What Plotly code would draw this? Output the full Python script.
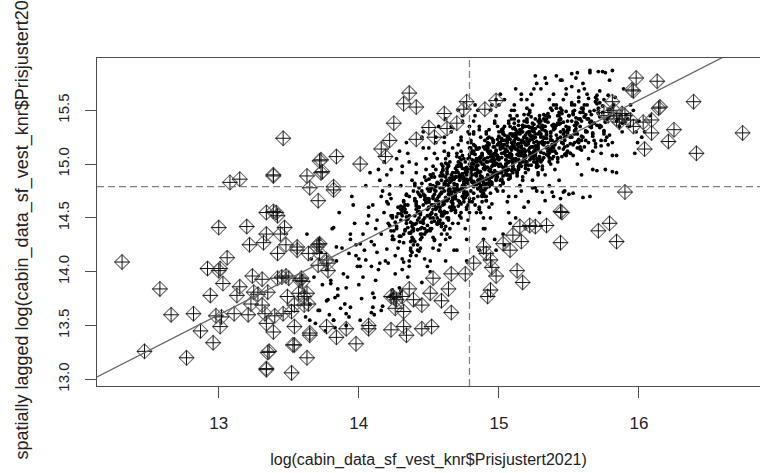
import plotly.graph_objects as go

# ---------------- data ----------------
x_label = "log(cabin_data_sf_vest_knr$Prisjustert2021)"
y_label = "spatially lagged log(cabin_data_sf_vest_knr$Prisjustert2021)"

x_ticks = [13, 14, 15, 16]
y_ticks = [13.0, 13.5, 14.0, 14.5, 15.0, 15.5]
y_ticktext = ["13.0", "13.5", "14.0", "14.5", "15.0", "15.5"]

x_mean = 14.79
y_mean = 14.79
slope = 0.665

# ordinary points, grouped by column of the cloud (outer / sparse part)
dx_136 = [13.62, 13.65, 13.68, 13.61, 13.66, 13.69]
dy_136 = [13.58, 13.70, 13.95, 13.82, 14.12, 13.52]
dx_137 = [13.71, 13.73, 13.74, 13.76, 13.77, 13.78, 13.72, 13.79]
dy_137 = [13.64, 14.18, 13.88, 13.45, 14.02, 13.74, 14.30, 13.60]
dx_138 = [13.80, 13.81, 13.82, 13.84, 13.85, 13.86, 13.87, 13.88, 13.89, 13.83]
dy_138 = [13.92, 14.40, 13.55, 14.10, 13.78, 14.55, 13.66, 14.22, 13.98, 13.48]
dx_139 = [13.94, 13.90, 13.96, 13.92, 13.98, 13.93, 13.97, 13.91, 13.99, 13.95, 13.91, 13.98]
dy_139 = [14.30, 13.70, 14.62, 13.95, 14.15, 13.58, 14.45, 13.85, 14.05, 14.70, 13.50, 14.25]
dx_140 = [14.03, 14.09, 14.05, 14.01, 14.07, 14.00, 14.04, 14.08, 14.02, 14.06, 14.00, 14.07, 14.03, 14.09, 14.01]
dy_140 = [14.35, 13.62, 14.80, 14.05, 14.52, 13.88, 14.20, 14.92, 13.75, 14.45, 14.12, 14.60, 13.95, 14.28, 13.55]
dx_141 = [14.12, 14.16, 14.10, 14.18, 14.14, 14.19, 14.11, 14.17, 14.13, 14.15, 14.14, 14.10, 14.16, 14.12, 14.18, 14.13, 14.17, 14.11]
dy_141 = [14.40, 14.70, 13.80, 14.55, 14.95, 14.10, 14.25, 13.68, 14.48, 14.85, 14.02, 14.62, 14.35, 13.92, 15.02, 14.18, 14.75, 13.60]
dx_142 = [14.21, 14.28, 14.24, 14.20, 14.26, 14.22, 14.29, 14.23, 14.27, 14.25,
          14.22, 14.26, 14.20, 14.28, 14.24, 14.29, 14.21, 14.27, 14.23, 14.25, 14.23, 14.29]
dy_142 = [14.45, 14.60, 14.30, 14.90, 14.15, 14.72, 13.85, 14.52, 15.05, 14.38,
          14.80, 13.98, 14.65, 14.22, 14.50, 15.12, 14.08, 14.42, 14.68, 13.75, 14.95, 14.33]
dx_143 = [14.34, 14.30, 14.36, 14.32, 14.38, 14.33, 14.37, 14.31, 14.39, 14.35,
          14.33, 14.39, 14.35, 14.31, 14.37, 14.30, 14.34, 14.38, 14.32, 14.36,
          14.31, 14.38, 14.34, 14.30, 14.36, 14.32]
dy_143 = [14.55, 14.48, 14.70, 14.35, 14.85, 14.62, 14.20, 14.92, 14.40, 15.10,
          14.58, 14.75, 13.95, 14.52, 14.28, 14.80, 15.20, 14.45, 14.66, 14.10,
          14.98, 14.38, 14.72, 13.82, 15.02, 14.60]
dx_144 = [14.43, 14.49, 14.45, 14.41, 14.47, 14.40, 14.44, 14.48, 14.42, 14.46,
          14.44, 14.40, 14.46, 14.42, 14.48, 14.43, 14.47, 14.41, 14.49, 14.45,
          14.40, 14.47, 14.43, 14.49, 14.41, 14.45, 14.48, 14.42, 14.46, 14.44]
dy_144 = [14.60, 14.52, 14.75, 14.45, 14.88, 14.68, 14.30, 14.95, 14.55, 15.15,
          14.40, 14.82, 14.62, 14.20, 15.05, 14.72, 14.50, 14.92, 14.05, 15.25,
          14.66, 14.35, 14.78, 14.58, 15.00, 13.90, 14.85, 14.48, 15.30, 14.70]
dx_145 = [14.50, 14.57, 14.53, 14.59, 14.51, 14.55, 14.58, 14.52, 14.56, 14.54,
          14.51, 14.58, 14.54, 14.50, 14.56, 14.52, 14.59, 14.53, 14.57, 14.55,
          14.52, 14.56, 14.50, 14.58, 14.54, 14.59, 14.51, 14.57, 14.53, 14.55,
          14.53, 14.59, 14.55, 14.51]
dy_145 = [14.65, 14.70, 14.58, 14.85, 14.50, 14.95, 14.78, 14.40, 15.05, 14.62,
          14.90, 14.72, 14.30, 15.15, 14.82, 14.55, 15.00, 14.68, 14.20, 15.25,
          14.88, 14.60, 14.75, 14.45, 15.10, 14.92, 14.10, 15.35, 14.80, 14.66,
          14.98, 14.52, 15.20, 14.00]
dx_146 = [14.61, 14.68, 14.64, 14.60, 14.66, 14.62, 14.69, 14.63, 14.67, 14.65,
          14.63, 14.69, 14.65, 14.61, 14.67, 14.60, 14.64, 14.68, 14.62, 14.66,
          14.60, 14.67, 14.63, 14.69, 14.61, 14.65, 14.68, 14.62, 14.66, 14.64,
          14.64, 14.60, 14.66, 14.62, 14.68, 14.63, 14.67, 14.61]
dy_146 = [14.75, 14.82, 14.68, 14.95, 14.60, 15.05, 14.88, 14.50, 15.15, 14.72,
          15.00, 14.80, 14.40, 15.25, 14.92, 14.65, 15.10, 14.78, 14.30, 15.35,
          14.98, 14.70, 14.85, 14.55, 15.20, 15.02, 14.20, 15.42, 14.90, 14.76,
          15.08, 14.62, 15.30, 14.10, 14.86, 14.96, 14.45, 15.12]
dx_147 = [14.72, 14.76, 14.70, 14.78, 14.74, 14.79, 14.71, 14.77, 14.73, 14.75,
          14.70, 14.77, 14.73, 14.79, 14.71, 14.75, 14.78, 14.72, 14.76, 14.74,
          14.74, 14.70, 14.76, 14.72, 14.78, 14.73, 14.77, 14.71, 14.79, 14.75,
          14.71, 14.78, 14.74, 14.70, 14.76, 14.72, 14.79, 14.73, 14.77, 14.75,
          14.73, 14.79]
dy_147 = [14.85, 14.92, 14.78, 15.05, 14.70, 15.15, 14.98, 14.60, 15.25, 14.82,
          15.10, 14.90, 14.50, 15.35, 15.02, 14.75, 15.20, 14.88, 14.40, 15.45,
          15.08, 14.80, 14.95, 14.65, 15.30, 15.12, 14.30, 15.50, 15.00, 14.86,
          15.18, 14.72, 15.40, 14.20, 14.96, 15.06, 14.55, 15.22, 14.10, 14.84,
          15.00, 15.28]
dx_148 = [14.83, 14.89, 14.85, 14.81, 14.87, 14.80, 14.84, 14.88, 14.82, 14.86,
          14.84, 14.80, 14.86, 14.82, 14.88, 14.83, 14.87, 14.81, 14.89, 14.85,
          14.81, 14.88, 14.84, 14.80, 14.86, 14.82, 14.89, 14.83, 14.87, 14.85,
          14.80, 14.87, 14.83, 14.89, 14.81, 14.85, 14.88, 14.82, 14.86, 14.84,
          14.82, 14.86, 14.80, 14.88, 14.84, 14.89]
dy_148 = [14.90, 15.00, 14.85, 15.10, 14.78, 15.20, 15.05, 14.70, 15.30, 14.92,
          15.15, 14.98, 14.60, 15.40, 15.08, 14.82, 15.25, 14.95, 14.50, 15.50,
          15.12, 14.88, 15.02, 14.75, 15.35, 15.18, 14.40, 15.55, 15.06, 14.94,
          15.22, 14.80, 15.45, 14.30, 15.04, 15.14, 14.65, 15.28, 14.20, 14.96,
          15.10, 15.32, 14.86, 15.00, 14.55, 15.16]
dx_149 = [14.94, 14.90, 14.96, 14.92, 14.98, 14.93, 14.97, 14.91, 14.99, 14.95,
          14.92, 14.96, 14.90, 14.98, 14.94, 14.99, 14.91, 14.97, 14.93, 14.95,
          14.93, 14.99, 14.95, 14.91, 14.97, 14.90, 14.94, 14.98, 14.92, 14.96,
          14.91, 14.98, 14.94, 14.90, 14.96, 14.92, 14.99, 14.93, 14.97, 14.95,
          14.90, 14.97, 14.93, 14.99, 14.91, 14.95, 14.98, 14.92, 14.96, 14.94]
dy_149 = [14.95, 15.05, 14.90, 15.15, 14.85, 15.25, 15.10, 14.78, 15.35, 14.98,
          15.20, 15.02, 14.70, 15.45, 15.12, 14.88, 15.30, 15.00, 14.60, 15.55,
          15.18, 14.92, 15.08, 14.82, 15.40, 15.22, 14.50, 15.60, 15.12, 15.00,
          15.28, 14.86, 15.50, 14.40, 15.06, 15.16, 14.75, 15.32, 14.30, 15.04,
          15.14, 15.38, 14.94, 15.08, 14.66, 15.24, 14.20, 15.02, 15.20, 14.88]
dx_150 = [15.01, 15.08, 15.04, 15.00, 15.06, 15.02, 15.09, 15.03, 15.07, 15.05,
          15.00, 15.07, 15.03, 15.09, 15.01, 15.05, 15.08, 15.02, 15.06, 15.04,
          15.04, 15.00, 15.06, 15.02, 15.08, 15.03, 15.07, 15.01, 15.09, 15.05,
          15.02, 15.06, 15.00, 15.08, 15.04, 15.09, 15.01, 15.07, 15.03, 15.05,
          15.03, 15.09, 15.05, 15.01, 15.07, 15.00, 15.04, 15.08, 15.02, 15.06]
dy_150 = [15.00, 15.10, 14.95, 15.20, 14.90, 15.30, 15.15, 14.82, 15.40, 15.04,
          15.25, 15.08, 14.75, 15.50, 15.18, 14.92, 15.35, 15.06, 14.65, 15.60,
          15.22, 14.98, 15.12, 14.86, 15.45, 15.28, 14.55, 15.65, 15.16, 15.04,
          15.32, 14.90, 15.55, 14.45, 15.10, 15.20, 14.80, 15.38, 14.35, 15.08,
          15.18, 15.42, 15.00, 15.14, 14.70, 15.26, 14.25, 15.06, 15.24, 14.94]
dx_151 = [15.12, 15.16, 15.10, 15.18, 15.14, 15.19, 15.11, 15.17, 15.13, 15.15,
          15.13, 15.19, 15.15, 15.11, 15.17, 15.10, 15.14, 15.18, 15.12, 15.16,
          15.10, 15.17, 15.13, 15.19, 15.11, 15.15, 15.18, 15.12, 15.16, 15.14,
          15.14, 15.10, 15.16, 15.12, 15.18, 15.13, 15.17, 15.11, 15.19, 15.15,
          15.11, 15.18, 15.14, 15.10, 15.16, 15.12, 15.19, 15.13]
dy_151 = [15.05, 15.15, 15.00, 15.25, 14.95, 15.35, 15.20, 14.88, 15.45, 15.08,
          15.30, 15.12, 14.80, 15.55, 15.22, 14.98, 15.40, 15.10, 14.70, 15.65,
          15.26, 15.02, 15.18, 14.92, 15.50, 15.32, 14.60, 15.70, 15.20, 15.08,
          15.36, 14.96, 15.60, 14.50, 15.14, 15.24, 14.85, 15.42, 14.40, 15.12,
          15.22, 15.46, 15.04, 15.18, 14.75, 15.28, 15.06, 15.28]
dx_152 = [15.23, 15.29, 15.25, 15.21, 15.27, 15.20, 15.24, 15.28, 15.22, 15.26,
          15.21, 15.28, 15.24, 15.20, 15.26, 15.22, 15.29, 15.23, 15.27, 15.25,
          15.22, 15.26, 15.20, 15.28, 15.24, 15.29, 15.21, 15.27, 15.23, 15.25,
          15.20, 15.27, 15.23, 15.29, 15.21, 15.25, 15.28, 15.22, 15.26, 15.24,
          15.24, 15.20, 15.26, 15.22]
dy_152 = [15.10, 15.20, 15.05, 15.30, 15.00, 15.40, 15.25, 14.92, 15.50, 15.14,
          15.35, 15.18, 14.85, 15.60, 15.28, 15.04, 15.45, 15.16, 14.75, 15.70,
          15.30, 15.08, 15.22, 14.98, 15.55, 15.38, 14.65, 15.75, 15.24, 15.12,
          15.42, 15.02, 15.65, 14.55, 15.20, 15.30, 14.90, 15.48, 14.78, 15.16,
          15.26, 15.52, 15.10, 15.34]
dx_153 = [15.34, 15.30, 15.36, 15.32, 15.38, 15.33, 15.37, 15.31, 15.39, 15.35,
          15.30, 15.37, 15.33, 15.39, 15.31, 15.35, 15.38, 15.32, 15.36, 15.34,
          15.31, 15.38, 15.34, 15.30, 15.36, 15.32, 15.39, 15.33, 15.37, 15.35,
          15.32, 15.36, 15.30, 15.38, 15.34, 15.39, 15.31, 15.37]
dy_153 = [15.15, 15.25, 15.10, 15.35, 15.05, 15.45, 15.30, 14.98, 15.55, 15.20,
          15.40, 15.22, 14.90, 15.65, 15.32, 15.08, 15.50, 15.18, 14.80, 15.75,
          15.36, 15.12, 15.28, 15.02, 15.60, 15.42, 14.70, 15.80, 15.26, 15.16,
          15.46, 15.06, 15.70, 14.74, 15.24, 15.34, 14.95, 15.52]
dx_154 = [15.40, 15.47, 15.43, 15.49, 15.41, 15.45, 15.48, 15.42, 15.46, 15.44,
          15.42, 15.46, 15.40, 15.48, 15.44, 15.49, 15.41, 15.47, 15.43, 15.45,
          15.44, 15.40, 15.46, 15.42, 15.48, 15.43, 15.47, 15.41, 15.49, 15.45,
          15.41, 15.48, 15.44, 15.40]
dy_154 = [15.20, 15.30, 15.15, 15.40, 15.10, 15.50, 15.35, 15.02, 15.60, 15.25,
          15.45, 15.28, 14.95, 15.70, 15.38, 15.12, 15.55, 15.22, 14.85, 15.78,
          15.42, 15.18, 15.32, 15.06, 15.65, 15.48, 14.75, 15.82, 15.30, 15.20,
          15.52, 15.10, 14.68, 15.36]
dx_155 = [15.51, 15.58, 15.54, 15.50, 15.56, 15.52, 15.59, 15.53, 15.57, 15.55,
          15.54, 15.50, 15.56, 15.52, 15.58, 15.53, 15.57, 15.51, 15.59, 15.55,
          15.53, 15.59, 15.55, 15.51, 15.57, 15.50, 15.54, 15.58, 15.52, 15.56]
dy_155 = [15.25, 15.35, 15.20, 15.45, 15.15, 15.55, 15.40, 15.08, 15.62, 15.30,
          15.50, 15.32, 15.00, 15.72, 15.42, 15.18, 15.58, 15.26, 14.90, 15.80,
          15.46, 15.22, 15.36, 15.10, 15.68, 14.72, 15.28, 15.48, 15.84, 15.38]
dx_156 = [15.62, 15.66, 15.60, 15.68, 15.64, 15.69, 15.61, 15.67, 15.63, 15.65,
          15.61, 15.68, 15.64, 15.60, 15.66, 15.62, 15.69, 15.63, 15.67, 15.65,
          15.60, 15.67, 15.63, 15.69, 15.61, 15.65]
dy_156 = [15.30, 15.40, 15.25, 15.50, 15.20, 15.58, 15.44, 15.12, 15.65, 15.35,
          15.55, 15.38, 15.05, 15.75, 15.46, 15.22, 15.62, 15.30, 14.95, 15.85,
          15.48, 15.28, 15.42, 15.16, 15.70, 14.70]
dx_157 = [15.73, 15.79, 15.75, 15.71, 15.77, 15.70, 15.74, 15.78, 15.72, 15.76,
          15.70, 15.77, 15.73, 15.79, 15.71, 15.75, 15.78, 15.72, 15.76, 15.74,
          15.72, 15.76]
dy_157 = [15.35, 15.45, 15.30, 15.52, 15.25, 15.60, 15.48, 15.18, 15.68, 15.40,
          15.56, 15.42, 15.10, 15.78, 15.50, 15.28, 15.64, 15.36, 14.95, 15.86,
          15.44, 15.22]
dx_158 = [15.84, 15.80, 15.86, 15.82, 15.88, 15.83, 15.87, 15.81, 15.89, 15.85, 15.81, 15.88, 15.84, 15.80]
dy_158 = [15.40, 15.48, 15.35, 15.55, 15.30, 15.62, 15.45, 15.20, 15.70, 15.42, 15.08, 15.38, 14.92, 15.52]
dx_159 = [15.92, 15.96, 15.90, 15.98, 15.94, 15.99, 15.91, 15.97, 15.93]
dy_159 = [15.42, 15.50, 15.38, 15.30, 15.55, 15.20, 15.46, 15.10, 15.35]
dx_160 = [16.00, 16.04, 16.08, 16.02]
dy_160 = [15.40, 15.30, 15.45, 15.25]

# dense core of the cloud
cx_142 = [14.29, 14.21, 14.24, 14.27, 14.20, 14.26, 14.23, 14.28, 14.25, 14.22, 14.27, 14.24]
cy_142 = [14.28, 14.63, 14.33, 14.51, 14.21, 14.46, 14.38, 14.54, 14.30, 14.43, 14.40, 14.52]
cx_143 = [14.36, 14.33, 14.30, 14.39, 14.32, 14.38, 14.35, 14.31, 14.37, 14.34,
          14.35, 14.32, 14.38, 14.30, 14.37, 14.33, 14.39, 14.34]
cy_143 = [14.52, 14.39, 14.61, 14.44, 14.65, 14.32, 14.49, 14.56, 14.36, 14.71,
          14.41, 14.59, 14.29, 14.54, 14.46, 14.62, 14.38, 14.51]
cx_144 = [14.45, 14.42, 14.48, 14.40, 14.47, 14.43, 14.49, 14.44, 14.41, 14.46,
          14.47, 14.44, 14.42, 14.45, 14.49, 14.41, 14.46, 14.40, 14.43, 14.48,
          14.49, 14.41, 14.44, 14.47]
cy_144 = [14.82, 14.39, 14.64, 14.44, 14.67, 14.56, 14.77, 14.35, 14.61, 14.48,
          14.70, 14.53, 14.74, 14.41, 14.58, 14.65, 14.45, 14.80, 14.50, 14.68,
          14.38, 14.63, 14.55, 14.71]
cx_145 = [14.57, 14.54, 14.52, 14.55, 14.59, 14.51, 14.56, 14.50, 14.53, 14.58,
          14.59, 14.51, 14.54, 14.57, 14.50, 14.56, 14.53, 14.58, 14.55, 14.52,
          14.56, 14.53, 14.50, 14.59, 14.52, 14.58, 14.55, 14.51, 14.57, 14.54]
cy_145 = [14.63, 14.88, 14.46, 14.75, 14.55, 14.81, 14.68, 14.60, 14.91, 14.48,
          14.73, 14.53, 14.76, 14.65, 14.86, 14.44, 14.70, 14.57, 14.79, 14.62,
          14.83, 14.50, 14.67, 14.74, 14.54, 14.89, 14.59, 14.77, 14.47, 14.72]
cx_146 = [14.65, 14.62, 14.68, 14.60, 14.67, 14.63, 14.69, 14.64, 14.61, 14.66,
          14.66, 14.63, 14.60, 14.69, 14.62, 14.68, 14.65, 14.61, 14.67, 14.64,
          14.69, 14.61, 14.64, 14.67, 14.60, 14.66, 14.63, 14.68, 14.65, 14.62,
          14.67, 14.64, 14.62, 14.65, 14.69, 14.61, 14.66, 14.60, 14.63, 14.68]
cy_146 = [14.76, 14.88, 14.68, 14.94, 14.61, 14.81, 14.73, 14.98, 14.56, 14.85,
          14.65, 14.91, 14.78, 14.70, 15.01, 14.58, 14.83, 14.63, 14.86, 14.75,
          14.96, 14.54, 14.80, 14.67, 14.89, 14.72, 14.93, 14.60, 14.77, 14.84,
          14.64, 14.99, 14.69, 14.87, 14.57, 14.82, 14.74, 14.90, 14.66, 14.79]
cx_147 = [14.76, 14.73, 14.70, 14.79, 14.72, 14.78, 14.75, 14.71, 14.77, 14.74,
          14.79, 14.71, 14.74, 14.77, 14.70, 14.76, 14.73, 14.78, 14.75, 14.72,
          14.77, 14.74, 14.72, 14.75, 14.79, 14.71, 14.76, 14.70, 14.73, 14.78,
          14.75, 14.72, 14.78, 14.70, 14.77, 14.73, 14.79, 14.74, 14.71, 14.76]
cy_147 = [14.69, 14.89, 14.81, 15.06, 14.64, 14.93, 14.73, 14.99, 14.86, 14.78,
          15.09, 14.66, 14.91, 14.71, 14.94, 14.83, 15.04, 14.62, 14.88, 14.75,
          14.97, 14.80, 15.01, 14.68, 14.85, 14.92, 14.72, 15.07, 14.77, 14.95,
          14.65, 14.90, 14.82, 14.98, 14.74, 14.87, 14.84, 14.96, 14.76, 15.02]
cx_148 = [14.89, 14.81, 14.84, 14.87, 14.80, 14.86, 14.83, 14.88, 14.85, 14.82,
          14.87, 14.84, 14.82, 14.85, 14.89, 14.81, 14.86, 14.80, 14.83, 14.88,
          14.85, 14.82, 14.88, 14.80, 14.87, 14.83, 14.89, 14.84, 14.81, 14.86,
          14.86, 14.83, 14.80, 14.89, 14.82, 14.88, 14.85, 14.81, 14.87, 14.84]
cy_148 = [14.72, 15.01, 14.81, 15.07, 14.94, 14.86, 15.17, 14.74, 14.99, 14.79,
          15.02, 14.91, 15.12, 14.70, 14.96, 14.83, 15.05, 14.88, 15.09, 14.76,
          14.93, 15.00, 14.80, 15.15, 14.85, 15.03, 14.73, 14.98, 14.90, 15.06,
          14.82, 14.95, 14.92, 15.04, 14.84, 15.10, 14.77, 14.97, 14.89, 15.14]
cx_149 = [14.97, 14.94, 14.92, 14.95, 14.99, 14.91, 14.96, 14.90, 14.93, 14.98,
          14.95, 14.92, 14.98, 14.90, 14.97, 14.93, 14.99, 14.94, 14.91, 14.96,
          14.96, 14.93, 14.90, 14.99, 14.92, 14.98, 14.95, 14.91, 14.97, 14.94,
          14.99, 14.91, 14.94, 14.97, 14.90, 14.96, 14.93, 14.98, 14.95, 14.92]
cy_149 = [15.01, 14.93, 15.24, 14.81, 15.06, 14.86, 15.09, 14.98, 15.19, 14.77,
          15.03, 14.90, 15.12, 14.95, 15.16, 14.83, 15.00, 15.07, 14.87, 15.22,
          14.92, 15.10, 14.80, 15.05, 14.97, 15.13, 14.89, 15.02, 14.99, 15.11,
          14.91, 15.17, 14.84, 15.04, 14.96, 15.21, 14.79, 15.08, 14.88, 15.14]
cx_150 = [15.05, 15.02, 15.08, 15.00, 15.07, 15.03, 15.09, 15.04, 15.01, 15.06,
          15.06, 15.03, 15.00, 15.09, 15.02, 15.08, 15.05, 15.01, 15.07, 15.04,
          15.09, 15.01, 15.04, 15.07, 15.00, 15.06, 15.03, 15.08, 15.05, 15.02,
          15.07, 15.04, 15.02, 15.05, 15.09, 15.01, 15.06, 15.00, 15.03, 15.08]
cy_150 = [15.12, 14.92, 15.15, 15.04, 15.25, 14.83, 15.09, 14.96, 15.18, 15.01,
          15.22, 14.89, 15.06, 15.13, 14.93, 15.28, 14.98, 15.16, 14.86, 15.11,
          15.03, 15.19, 14.95, 15.08, 15.05, 15.17, 14.97, 15.23, 14.90, 15.10,
          15.02, 15.27, 14.85, 15.14, 14.94, 15.20, 15.07, 14.99, 15.30, 14.87]
cx_151 = [15.16, 15.13, 15.10, 15.19, 15.12, 15.18, 15.15, 15.11, 15.17, 15.14,
          15.19, 15.11, 15.14, 15.17, 15.10, 15.16, 15.13, 15.18, 15.15, 15.12,
          15.17, 15.14, 15.12, 15.15, 15.19, 15.11, 15.16, 15.10, 15.13, 15.18,
          15.15, 15.12, 15.18, 15.10, 15.17, 15.13, 15.19, 15.14, 15.11, 15.16]
cy_151 = [15.31, 14.89, 15.15, 15.02, 15.24, 15.07, 15.28, 14.95, 15.12, 15.19,
          14.99, 15.34, 15.04, 15.22, 14.92, 15.17, 15.09, 15.25, 15.01, 15.14,
          15.11, 15.23, 15.03, 15.29, 14.96, 15.16, 15.08, 15.33, 14.91, 15.20,
          15.00, 15.26, 15.13, 15.05, 15.36, 14.93, 15.18, 14.98, 15.21, 15.10]
cx_152 = [15.29, 15.21, 15.24, 15.27, 15.20, 15.26, 15.23, 15.28, 15.25, 15.22,
          15.27, 15.24, 15.22, 15.25, 15.29, 15.21, 15.26, 15.20, 15.23, 15.28,
          15.25, 15.22, 15.28, 15.20, 15.27, 15.23, 15.29, 15.24, 15.21, 15.26,
          15.26, 15.23, 15.20, 15.29, 15.22, 15.28, 15.25, 15.21, 15.27, 15.24]
cy_152 = [15.30, 15.13, 15.34, 15.01, 15.18, 15.25, 15.05, 15.40, 15.10, 15.28,
          14.98, 15.23, 15.15, 15.31, 15.07, 15.20, 15.17, 15.29, 15.09, 15.35,
          15.02, 15.22, 15.14, 15.39, 14.97, 15.26, 15.06, 15.32, 15.19, 15.11,
          15.42, 14.99, 15.24, 15.04, 15.27, 15.16, 15.37, 14.95, 15.21, 15.08]
cx_153 = [15.37, 15.34, 15.32, 15.35, 15.39, 15.31, 15.36, 15.30, 15.33, 15.38,
          15.35, 15.32, 15.38, 15.30, 15.37, 15.33, 15.39, 15.34, 15.31, 15.36,
          15.36, 15.33, 15.30, 15.39, 15.32, 15.38, 15.35, 15.31, 15.37, 15.34,
          15.39, 15.31, 15.34, 15.37, 15.30, 15.36, 15.33, 15.38, 15.35, 15.32]
cy_153 = [15.23, 15.30, 15.10, 15.45, 15.15, 15.33, 15.03, 15.28, 15.20, 15.36,
          15.12, 15.25, 15.22, 15.34, 15.14, 15.40, 15.07, 15.27, 15.19, 15.44,
          15.02, 15.31, 15.11, 15.37, 15.24, 15.16, 15.47, 15.04, 15.29, 15.09,
          15.32, 15.21, 15.42, 15.00, 15.26, 15.13, 15.35, 15.18, 15.39, 15.06]
cx_154 = [15.45, 15.42, 15.48, 15.40, 15.47, 15.43, 15.49, 15.44, 15.41, 15.46,
          15.46, 15.43, 15.40, 15.49, 15.42, 15.48, 15.45, 15.41, 15.47, 15.44,
          15.49, 15.41, 15.44, 15.47, 15.40, 15.46, 15.43, 15.48, 15.45, 15.42]
cy_154 = [15.20, 15.38, 15.08, 15.33, 15.25, 15.41, 15.17, 15.30, 15.27, 15.39,
          15.19, 15.45, 15.12, 15.32, 15.24, 15.49, 15.07, 15.36, 15.16, 15.42,
          15.29, 15.21, 15.52, 15.09, 15.34, 15.14, 15.37, 15.26, 15.47, 15.05]
cx_155 = [15.56, 15.53, 15.50, 15.59, 15.52, 15.58, 15.55, 15.51, 15.57, 15.54,
          15.59, 15.51, 15.54, 15.57, 15.50, 15.56, 15.53, 15.58, 15.55, 15.52,
          15.57, 15.54, 15.52, 15.55, 15.59]
cy_155 = [15.21, 15.47, 15.34, 15.26, 15.57, 15.14, 15.39, 15.19, 15.42, 15.31,
          15.52, 15.10, 15.36, 15.23, 15.45, 15.28, 15.49, 15.16, 15.33, 15.40,
          15.20, 15.55, 15.25, 15.43, 15.13]
cx_156 = [15.69, 15.61, 15.64, 15.67, 15.60, 15.66, 15.63, 15.68, 15.65, 15.62,
          15.67, 15.64, 15.62, 15.65, 15.69, 15.61, 15.66, 15.60]
cy_156 = [15.58, 15.16, 15.42, 15.29, 15.51, 15.34, 15.55, 15.22, 15.39, 15.46,
          15.26, 15.61, 15.31, 15.49, 15.19, 15.44, 15.36, 15.52]
cx_157 = [15.77, 15.74, 15.72, 15.75, 15.79, 15.71, 15.76, 15.70, 15.73, 15.78, 15.75, 15.72, 15.78, 15.70]
cy_157 = [15.42, 15.54, 15.34, 15.60, 15.27, 15.47, 15.39, 15.64, 15.22, 15.51, 15.31, 15.57, 15.44, 15.36]

# extra points in the lower / middle part of the band
bx_143 = [14.39, 14.31, 14.34, 14.37, 14.30, 14.36, 14.33, 14.38, 14.35, 14.32,
          14.35, 14.32, 14.38, 14.30, 14.37, 14.33, 14.39, 14.34, 14.31, 14.36]
by_143 = [14.30, 14.12, 14.45, 14.22, 14.58, 14.05, 14.38, 14.18, 14.50, 14.27,
          14.62, 14.09, 14.42, 14.33, 14.15, 14.55, 14.25, 14.48, 14.02, 14.36]
bx_144 = [14.47, 14.44, 14.42, 14.45, 14.49, 14.41, 14.46, 14.40, 14.43, 14.48,
          14.46, 14.43, 14.40, 14.49, 14.42, 14.48, 14.45, 14.41, 14.47, 14.44]
by_144 = [14.40, 14.22, 14.55, 14.32, 14.68, 14.15, 14.48, 14.28, 14.60, 14.37,
          14.72, 14.19, 14.52, 14.43, 14.25, 14.65, 14.35, 14.58, 14.12, 14.46]
bx_145 = [14.56, 14.53, 14.50, 14.59, 14.52, 14.58, 14.55, 14.51, 14.57, 14.54,
          14.57, 14.54, 14.52, 14.55, 14.59, 14.51, 14.56, 14.50, 14.53, 14.58,
          14.51, 14.58]
by_145 = [14.50, 14.32, 14.65, 14.42, 14.78, 14.25, 14.58, 14.38, 14.70, 14.47,
          14.82, 14.29, 14.62, 14.53, 14.35, 14.75, 14.45, 14.68, 14.22, 14.56,
          14.40, 14.60]
bx_146 = [14.65, 14.62, 14.68, 14.60, 14.67, 14.63, 14.69, 14.64, 14.61, 14.66,
          14.69, 14.61, 14.64, 14.67, 14.60, 14.66, 14.63, 14.68, 14.65, 14.62,
          14.64, 14.67]
by_146 = [14.60, 14.42, 14.75, 14.52, 14.88, 14.35, 14.68, 14.48, 14.80, 14.57,
          14.92, 14.39, 14.72, 14.63, 14.45, 14.85, 14.55, 14.78, 14.32, 14.66,
          14.50, 14.70]
bx_147 = [14.76, 14.73, 14.70, 14.79, 14.72, 14.78, 14.75, 14.71, 14.77, 14.74,
          14.75, 14.72, 14.78, 14.70, 14.77, 14.73, 14.79, 14.74, 14.71, 14.76,
          14.73, 14.76]
by_147 = [14.73, 14.55, 14.88, 14.65, 15.00, 14.48, 14.81, 14.61, 14.93, 14.70,
          15.05, 14.52, 14.85, 14.76, 14.58, 14.98, 14.68, 14.91, 14.45, 14.79,
          14.63, 14.83]
bx_148 = [14.89, 14.81, 14.84, 14.87, 14.80, 14.86, 14.83, 14.88, 14.85, 14.82,
          14.86, 14.83, 14.80, 14.89, 14.82, 14.88, 14.85, 14.81, 14.87, 14.84,
          14.82, 14.87]
by_148 = [14.83, 14.65, 14.98, 14.75, 15.10, 14.58, 14.91, 14.71, 15.03, 14.80,
          15.15, 14.62, 14.95, 14.86, 14.68, 15.08, 14.78, 15.01, 14.55, 14.89,
          14.73, 14.93]
bx_149 = [14.97, 14.94, 14.92, 14.95, 14.99, 14.91, 14.96, 14.90, 14.93, 14.98,
          14.99, 14.91, 14.94, 14.97, 14.90, 14.96, 14.93, 14.98, 14.95, 14.92,
          14.93, 14.98]
by_149 = [14.91, 14.73, 15.06, 14.83, 15.18, 14.66, 14.99, 14.79, 15.11, 14.88,
          15.23, 14.70, 15.03, 14.94, 14.76, 15.16, 14.86, 15.09, 14.63, 14.97,
          14.81, 15.01]
bx_150 = [15.05, 15.02, 15.08, 15.00, 15.07, 15.03, 15.09, 15.04, 15.01, 15.06,
          15.07, 15.04, 15.02, 15.05, 15.09, 15.01, 15.06, 15.00, 15.03, 15.08,
          15.03, 15.06]
by_150 = [15.00, 15.22, 14.88, 15.30, 14.95, 15.15, 15.08, 15.35, 14.92, 15.26,
          15.02, 15.18, 14.98, 15.12, 15.28, 14.85, 15.20, 15.05, 15.33, 14.90,
          15.10, 15.24]
bx_151 = [15.19, 15.11, 15.14, 15.17, 15.10, 15.16, 15.13, 15.18, 15.15, 15.12,
          15.15, 15.12, 15.18, 15.10, 15.17, 15.13, 15.19, 15.14, 15.11, 15.16,
          15.14, 15.17]
by_151 = [15.08, 15.28, 14.96, 15.36, 15.02, 15.22, 15.14, 15.40, 14.99, 15.32,
          15.10, 15.25, 15.05, 15.18, 15.34, 14.93, 15.27, 15.12, 15.38, 14.98,
          15.16, 15.30]
bx_152 = [15.26, 15.23, 15.20, 15.29, 15.22, 15.28, 15.25, 15.21, 15.27, 15.24,
          15.27, 15.24, 15.22, 15.25, 15.29, 15.21, 15.26, 15.20, 15.23, 15.28]
by_152 = [15.14, 15.34, 15.02, 15.42, 15.08, 15.28, 15.20, 15.46, 15.05, 15.38,
          15.16, 15.31, 15.11, 15.24, 15.40, 14.99, 15.33, 15.18, 15.44, 15.04]

# scattered dots outside the main band
dx_out = [13.63, 13.82, 13.94, 14.01, 13.84, 13.93, 14.05, 14.09, 14.15, 13.80, 13.85,
          13.83, 13.77, 13.72, 13.94, 13.91, 14.11, 14.16, 14.10, 13.82, 13.65,
          14.23, 14.25, 14.27, 14.24, 14.29,
          15.65, 15.71, 15.76, 15.81, 15.56, 15.44, 15.26,
          15.70, 15.81, 15.84, 15.73, 15.46, 15.53, 15.60, 15.31, 15.33, 15.24]
dy_out = [14.35, 14.41, 14.35, 14.26, 14.23, 14.17, 14.11, 14.05, 14.08, 13.89, 13.84,
          13.76, 13.73, 13.64, 13.67, 13.61, 13.76, 13.64, 13.67, 13.55, 13.55,
          13.78, 13.80, 13.76, 13.83, 13.79,
          15.87, 15.86, 15.85, 15.87, 15.85, 15.78, 15.82,
          14.94, 14.93, 15.08, 15.17, 14.74, 14.73, 14.69, 14.74, 14.66, 14.78]

# influential observations (diamond markers), (x, y)
infl_pts = [
    (12.31, 14.09), (12.47, 13.26), (12.58, 13.84), (12.66, 13.60), (12.77, 13.20),
    (12.82, 13.61), (12.87, 13.45), (12.92, 14.03), (12.94, 13.78), (12.96, 13.34),
    (12.98, 13.59), (13.00, 14.41), (13.00, 14.01), (13.01, 14.03), (13.01, 13.49),
    (13.02, 13.58), (13.03, 13.89), (13.06, 14.13), (13.08, 14.83), (13.11, 13.61),
    (13.13, 13.78), (13.15, 14.86), (13.15, 13.86), (13.20, 14.42), (13.21, 13.60),
    (13.22, 14.25), (13.23, 13.70), (13.24, 13.96), (13.25, 13.81), (13.28, 13.79),
    (13.31, 13.93), (13.31, 13.69), (13.32, 14.27), (13.33, 13.61), (13.34, 13.09),
    (13.34, 13.10), (13.34, 14.35), (13.34, 14.55), (13.34, 13.52), (13.35, 13.81),
    (13.35, 13.25), (13.36, 13.26), (13.39, 13.44), (13.39, 14.90), (13.39, 14.89),
    (13.39, 14.56), (13.40, 13.59), (13.41, 14.55), (13.42, 14.52), (13.42, 14.17),
    (13.42, 13.94), (13.44, 14.35), (13.45, 13.95), (13.46, 15.24), (13.46, 13.61),
    (13.47, 14.41), (13.48, 14.25), (13.48, 13.96), (13.49, 13.77), (13.50, 13.94),
    (13.52, 13.63), (13.52, 13.06), (13.53, 13.32), (13.54, 13.49), (13.54, 13.32),
    (13.54, 13.69), (13.56, 14.23), (13.56, 14.20), (13.57, 13.80), (13.58, 13.92),
    (13.59, 13.94), (13.60, 13.91), (13.61, 13.69), (13.61, 13.77), (13.63, 13.80),
    (13.63, 13.20), (13.63, 14.89), (13.64, 14.17), (13.64, 13.70), (13.65, 14.78),
    (13.65, 13.43), (13.65, 13.41), (13.70, 14.23), (13.71, 14.25), (13.71, 14.66),
    (13.71, 14.06), (13.72, 15.03), (13.72, 14.26), (13.72, 14.17), (13.73, 15.04),
    (13.73, 14.92), (13.74, 14.93), (13.77, 14.11), (13.77, 13.49), (13.78, 14.08),
    (13.78, 14.01), (13.82, 14.79), (13.82, 14.76), (13.84, 15.07), (13.84, 13.39),
    (13.91, 13.47), (13.98, 13.33), (14.01, 15.00), (14.07, 13.50), (14.07, 13.47),
    (14.16, 15.14), (14.19, 15.07), (14.22, 15.22), (14.23, 13.46), (14.23, 13.77),
    (14.25, 13.76), (14.26, 13.66), (14.27, 13.74), (14.31, 13.77), (14.32, 13.49),
    (14.32, 13.63), (14.32, 15.56), (14.34, 13.41), (14.36, 15.66), (14.36, 13.84),
    (14.39, 13.74), (14.41, 15.53), (14.41, 15.23), (14.45, 13.47), (14.45, 13.69),
    (14.25, 15.38), (14.50, 15.34), (14.51, 13.80), (14.52, 13.49), (14.53, 13.94),
    (14.54, 15.25), (14.59, 13.73), (14.61, 15.47), (14.63, 15.33), (14.64, 13.84),
    (14.66, 13.62), (14.66, 13.98), (14.70, 15.38), (14.75, 15.51), (14.76, 13.98),
    (14.77, 15.58), (14.82, 14.08), (14.89, 14.23), (14.90, 15.51), (14.91, 14.17),
    (14.94, 14.11), (14.95, 14.04), (14.98, 15.59), (14.98, 13.96), (14.94, 13.83),
    (14.92, 13.77), (15.03, 14.26), (15.08, 14.20), (15.10, 14.34), (15.13, 14.01),
    (15.15, 14.42), (15.16, 14.28), (15.17, 13.90), (15.22, 14.43), (15.26, 14.42),
    (15.34, 14.43), (15.44, 14.56), (15.45, 14.55), (15.44, 14.27), (15.71, 14.38),
    (15.79, 14.45), (15.84, 14.28), (15.90, 14.74), (15.98, 15.80), (16.13, 15.77),
    (15.95, 15.69), (15.96, 15.68), (15.81, 15.58), (15.78, 15.45), (15.84, 15.42),
    (15.88, 15.47), (15.94, 15.41), (15.96, 15.35), (16.03, 15.39), (16.09, 15.41),
    (15.82, 15.50), (15.90, 15.45), (15.75, 15.48), (15.86, 15.39), (16.09, 15.29),
    (16.04, 15.14), (16.14, 15.52), (16.15, 15.53), (16.25, 15.32), (16.21, 15.21),
    (16.39, 15.58), (16.41, 15.10), (16.74, 15.29),
]

# ---------------- assemble ----------------
dot_x = (dx_136 + dx_137 + dx_138 + dx_139 + dx_140 + dx_141 + dx_142 + dx_143 + dx_144
         + dx_145 + dx_146 + dx_147 + dx_148 + dx_149 + dx_150 + dx_151 + dx_152 + dx_153
         + dx_154 + dx_155 + dx_156 + dx_157 + dx_158 + dx_159 + dx_160
         + cx_142 + cx_143 + cx_144 + cx_145 + cx_146 + cx_147 + cx_148 + cx_149 + cx_150
         + cx_151 + cx_152 + cx_153 + cx_154 + cx_155 + cx_156 + cx_157
         + bx_143 + bx_144 + bx_145 + bx_146 + bx_147 + bx_148 + bx_149 + bx_150
         + bx_151 + bx_152 + dx_out)
dot_y = (dy_136 + dy_137 + dy_138 + dy_139 + dy_140 + dy_141 + dy_142 + dy_143 + dy_144
         + dy_145 + dy_146 + dy_147 + dy_148 + dy_149 + dy_150 + dy_151 + dy_152 + dy_153
         + dy_154 + dy_155 + dy_156 + dy_157 + dy_158 + dy_159 + dy_160
         + cy_142 + cy_143 + cy_144 + cy_145 + cy_146 + cy_147 + cy_148 + cy_149 + cy_150
         + cy_151 + cy_152 + cy_153 + cy_154 + cy_155 + cy_156 + cy_157
         + by_143 + by_144 + by_145 + by_146 + by_147 + by_148 + by_149 + by_150
         + by_151 + by_152 + dy_out)
assert len(dot_x) == len(dot_y)
infl_x = [p[0] for p in infl_pts]
infl_y = [p[1] for p in infl_pts]

X_RANGE = [12.131, 16.864]
Y_RANGE = [12.938, 15.986]
FONT = "Liberation Sans, Arial, Helvetica, sans-serif"
AX = "#4d4d4d"
TXT = "#222222"

fig = go.Figure()
fig.add_trace(go.Scatter(
    x=dot_x, y=dot_y, mode="markers",
    marker=dict(symbol="circle", size=3.8, color="black", line=dict(width=0)),
    hoverinfo="skip", showlegend=False))
fig.add_trace(go.Scatter(
    x=infl_x, y=infl_y, mode="markers",
    marker=dict(symbol="diamond-open", size=11.5, color="#6e6e6e",
                line=dict(width=1.1, color="#6e6e6e")),
    hoverinfo="skip", showlegend=False))
fig.add_trace(go.Scatter(
    x=infl_x, y=infl_y, mode="markers",
    marker=dict(symbol="cross-thin-open", size=10.7, color="#111111",
                line=dict(width=1.0, color="#111111")),
    hoverinfo="skip", showlegend=False))
# regression line through the means
fig.add_trace(go.Scatter(
    x=X_RANGE, y=[y_mean + slope * (v - x_mean) for v in X_RANGE],
    mode="lines", line=dict(color="#666666", width=1.3),
    hoverinfo="skip", showlegend=False))

fig.add_shape(type="line", xref="x", yref="paper", x0=x_mean, x1=x_mean, y0=0, y1=1,
              line=dict(color="#808080", width=1.3, dash="7px,4px"), layer="above")
fig.add_shape(type="line", xref="paper", yref="y", x0=0, x1=1, y0=y_mean, y1=y_mean,
              line=dict(color="#808080", width=1.3, dash="7px,4px"), layer="above")

# y-axis title (runs past the top edge of the picture, as in the original)
fig.add_annotation(text=y_label, xref="paper", yref="paper", x=-0.1131, y=0.5137,
                   xanchor="center", yanchor="middle", textangle=-90, showarrow=False,
                   font=dict(family=FONT, size=18, color=TXT))

fig.update_layout(
    width=760, height=473,
    margin=dict(l=97, r=0, t=58, b=87, pad=0),
    paper_bgcolor="white", plot_bgcolor="white",
    font=dict(family=FONT, size=16, color=TXT),
    showlegend=False,
)
fig.update_xaxes(
    range=X_RANGE, tickvals=x_ticks, ticktext=[str(v) for v in x_ticks],
    ticks="outside", ticklen=11, tickwidth=1.3, tickcolor=AX,
    showline=True, linecolor=AX, linewidth=1.3, mirror=True,
    showgrid=False, zeroline=False, ticklabelstandoff=10,
    tickfont=dict(size=17, color=TXT, family=FONT),
    title=dict(text=x_label, font=dict(size=16, color=TXT, family=FONT), standoff=22),
)
fig.update_yaxes(
    range=Y_RANGE, tickvals=y_ticks, ticktext=y_ticktext, tickangle=-90,
    ticks="outside", ticklen=11, tickwidth=1.3, tickcolor=AX,
    showline=True, linecolor=AX, linewidth=1.3, mirror=False,
    showgrid=False, zeroline=False, ticklabelstandoff=10,
    tickfont=dict(size=15, color=TXT, family=FONT),
)

fig.write_html("out.html")
